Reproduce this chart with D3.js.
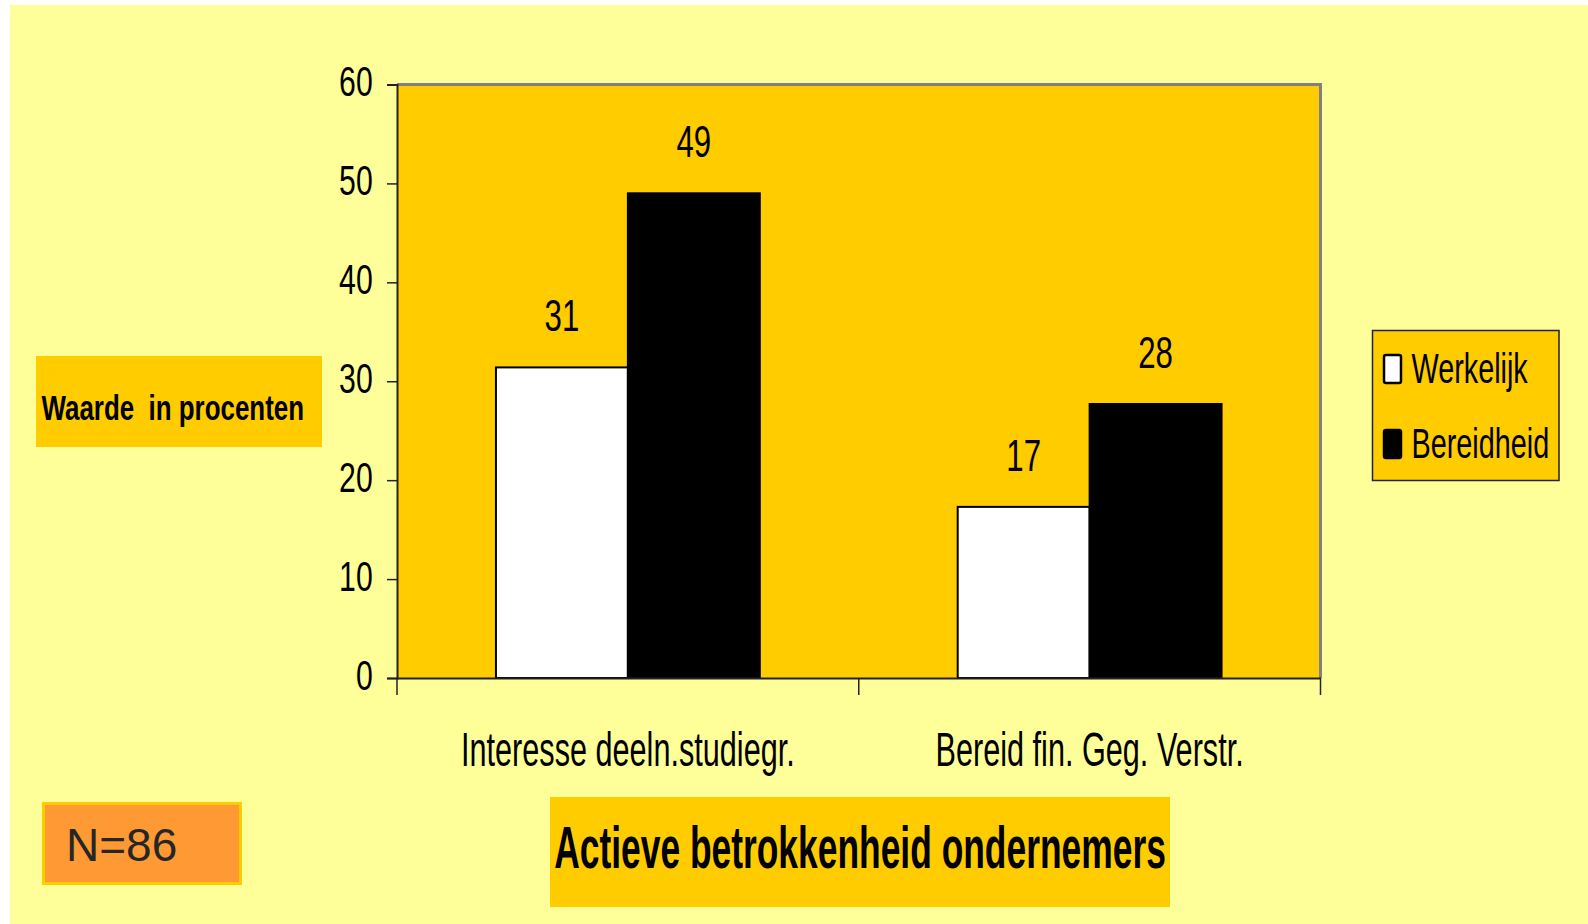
<!DOCTYPE html>
<html>
<head>
<meta charset="utf-8">
<script src="https://cdn.jsdelivr.net/npm/d3@7"></script>
<style>
  html, body { margin: 0; padding: 0; background: #ffffff; }
  svg { display: block; }
  text { font-family: "Liberation Sans", Arial, sans-serif; fill: #000; }
</style>
</head>
<body>
<svg id="chart"></svg>
<script>
const WIDTH = 1588;
const HEIGHT = 924;

// Data
const categories = ["Interesse deeln.studiegr.", "Bereid fin. Geg. Verstr."];
const seriesNames = ["Werkelijk", "Bereidheid"];
const werkelijk = [31.4, 17.3];
const bereidheid = [49.0, 27.7];
const yTicks = [0, 10, 20, 30, 40, 50, 60];
const seriesColors = ["#ffffff", "#000000"];

const svg = d3.select("#chart").attr("width", WIDTH).attr("height", HEIGHT);

// page background
svg.append("rect").attr("x", 10).attr("y", 5)
  .attr("width", WIDTH - 10).attr("height", HEIGHT - 5)
  .attr("fill", "#ffff99");

// Plot area
const plot = { left: 397, top: 84.5, right: 1320.5, bottom: 678 };

const x0 = d3.scaleBand().domain(categories).range([plot.left, plot.right]);
const x1 = d3.scaleBand().domain(seriesNames).range([0, x0.bandwidth()]).paddingOuter(0.75);
const y = d3.scaleLinear().domain([0, 60]).range([plot.bottom, plot.top]);

svg.append("rect")
  .attr("x", plot.left).attr("y", plot.top)
  .attr("width", plot.right - plot.left).attr("height", plot.bottom - plot.top)
  .attr("fill", "#ffcc00");
// gray top + right border
svg.append("path")
  .attr("d", `M${plot.left},${plot.top}H${plot.right}V${plot.bottom}`)
  .attr("fill", "none").attr("stroke", "#808080").attr("stroke-width", 3);

// put text at x,y squeezed horizontally (the original font is very narrow)
function squeezed(parent, x, yy, str, size, sx, anchor, weight) {
  return parent.append("text")
    .attr("transform", `translate(${x},${yy}) scale(${sx},1)`)
    .attr("text-anchor", anchor || "start")
    .attr("font-size", size)
    .attr("font-weight", weight || "normal")
    .style("white-space", "pre")
    .text(str);
}

// Bars
const rows = categories.map((c, i) => ({ cat: c, values: [werkelijk[i], bereidheid[i]] }));
const groups = svg.append("g").selectAll("g")
  .data(rows)
  .join("g")
  .attr("transform", d => `translate(${x0(d.cat)},0)`);

groups.selectAll("rect")
  .data(d => d.values.map((v, j) => ({ name: seriesNames[j], value: v, color: seriesColors[j] })))
  .join("rect")
  .attr("x", d => x1(d.name))
  .attr("y", d => y(d.value))
  .attr("width", x1.bandwidth())
  .attr("height", d => y(0) - y(d.value))
  .attr("fill", d => d.color)
  .attr("stroke", "#000")
  .attr("stroke-width", 2);

// value labels
const fmt = d3.format(".0f");
rows.forEach(r => {
  r.values.forEach((v, j) => {
    const cx = x0(r.cat) + x1(seriesNames[j]) + x1.bandwidth() / 2;
    squeezed(svg, cx, y(v) - 36, fmt(v), 44, 0.71, "middle");
  });
});

// Y axis
const yAxis = svg.append("g")
  .attr("transform", `translate(${plot.left},0)`)
  .call(d3.axisLeft(y).tickValues(yTicks).tickSize(10).tickPadding(14).tickFormat(d3.format("d")));
yAxis.select(".domain").attr("stroke", "#222").attr("stroke-width", 2);
yAxis.selectAll(".tick line").attr("stroke", "#222").attr("stroke-width", 1.5);
yAxis.selectAll(".tick text")
  .attr("font-size", 42)
  .attr("font-family", null)
  .attr("dy", "0.27em")
  .attr("x", null)
  .attr("transform", "translate(-24.3,0) scale(0.72,1)");

// X axis (labels centred, tick marks between categories)
const xAxis = svg.append("g")
  .attr("transform", `translate(0,${plot.bottom})`)
  .call(d3.axisBottom(x0).tickSize(0).tickFormat(""));
xAxis.select(".domain").attr("stroke", "#222").attr("stroke-width", 2);
const edges = categories.map(c => x0(c)).concat([plot.right]);
xAxis.selectAll("line.edge")
  .data(edges)
  .join("line")
  .attr("class", "edge")
  .attr("x1", d => d).attr("x2", d => d)
  .attr("y1", 0).attr("y2", 17)
  .attr("stroke", "#222").attr("stroke-width", 1.5);
categories.forEach(c => {
  squeezed(svg, x0(c) + x0.bandwidth() / 2, 766, c, 47.5, 0.645, "middle");
});

// Legend
const legend = svg.append("g");
legend.append("rect")
  .attr("x", 1372.5).attr("y", 330.5).attr("width", 186.5).attr("height", 150)
  .attr("fill", "#ffcc00").attr("stroke", "#222").attr("stroke-width", 1.5);
const legendY = [369, 444];
seriesNames.forEach((s, i) => {
  legend.append("rect")
    .attr("x", 1384).attr("y", legendY[i] - 14)
    .attr("width", 17).attr("height", 28)
    .attr("rx", 2)
    .attr("fill", seriesColors[i]).attr("stroke", "#000").attr("stroke-width", 2.5);
  squeezed(legend, 1411.5, legendY[i] + 14, s, 43, 0.67, "start");
});

// Y title box
svg.append("rect").attr("x", 36).attr("y", 356).attr("width", 286).attr("height", 91)
  .attr("fill", "#ffcc00");
squeezed(svg, 41.5, 419.5, "Waarde  in procenten", 36, 0.72, "start", "bold");

// N box
svg.append("rect").attr("x", 43.5).attr("y", 803.5).attr("width", 197).attr("height", 80)
  .attr("fill", "#ff9933").attr("stroke", "#ffcc00").attr("stroke-width", 3);
svg.append("text").attr("x", 66).attr("y", 861).attr("font-size", 46)
  .style("fill", "#262626").text("N=86");

// Title box
svg.append("rect").attr("x", 550).attr("y", 797).attr("width", 620).attr("height", 110)
  .attr("fill", "#ffcc00");
squeezed(svg, 860, 868, "Actieve betrokkenheid ondernemers", 59, 0.6, "middle", "bold");
</script>
</body>
</html>
